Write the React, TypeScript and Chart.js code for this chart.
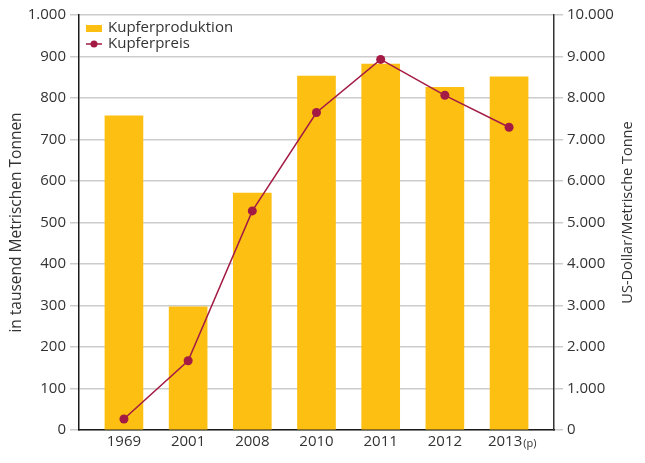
import React, { useEffect, useRef } from "react";
import { Chart, registerables } from "chart.js";

Chart.register(...registerables);

const categories = ["1969", "2001", "2008", "2010", "2011", "2012", "2013"];
const categorySuffix = ["", "", "", "", "", "", "(p)"];
const production = [757, 297, 571, 853, 882, 826, 851];
const price = [265, 1670, 5280, 7650, 8930, 8065, 7295];
const leftTitle = "in tausend Metrischen Tonnen";
const rightTitle = "US-Dollar/Metrische Tonne";
const seriesNames = ["Kupferproduktion", "Kupferpreis"];

const BAR = "#FCBF12";
const LINE = "#A31B44";
const TEXT = "#333333";
const GRID = "#cccccc";
const FONT = "'Open Sans', 'Noto Sans', sans-serif";

const fmt = (v: number) => String(v).replace(/\B(?=(\d{3})+(?!\d))/g, ".");

const customPlugin = {
  id: "custom",
  afterDraw(chart: any) {
    const ctx = chart.ctx;
    const x = chart.scales.x;
    const area = chart.chartArea;
    ctx.save();
    ctx.fillStyle = TEXT;
    ctx.textBaseline = "middle";
    categories.forEach((c, i) => {
      const px = x.getPixelForValue(i);
      const py = area.bottom + 12;
      const suf = categorySuffix[i];
      ctx.font = `15px ${FONT}`;
      const w1 = ctx.measureText(c).width;
      const start = suf ? px - w1 / 2 - 4 : px - w1 / 2;
      ctx.textAlign = "left";
      ctx.fillText(c, start, py);
      if (suf) {
        ctx.font = `11px ${FONT}`;
        ctx.fillText(suf, start + w1 + 1, py + 2);
      }
    });
    // axis titles (both read bottom-to-top)
    const midY = (area.top + area.bottom) / 2;
    ctx.textAlign = "center";
    ctx.textBaseline = "middle";
    ctx.save();
    ctx.font = `15.5px ${FONT}`;
    ctx.translate(17, midY);
    ctx.rotate(-Math.PI / 2);
    ctx.fillText(leftTitle, 0, 0);
    ctx.restore();
    ctx.save();
    ctx.font = `14.5px ${FONT}`;
    ctx.translate(628, midY - 10);
    ctx.rotate(-Math.PI / 2);
    ctx.fillText(rightTitle, 0, 0);
    ctx.restore();
    // legend
    const lx = area.left + 7;
    const ly1 = area.top + 13;
    const ly2 = area.top + 29;
    ctx.fillStyle = BAR;
    ctx.fillRect(lx, ly1 - 3, 16, 7);
    ctx.strokeStyle = LINE;
    ctx.lineWidth = 1.5;
    ctx.beginPath();
    ctx.moveTo(lx, ly2);
    ctx.lineTo(lx + 16, ly2);
    ctx.stroke();
    ctx.fillStyle = LINE;
    ctx.beginPath();
    ctx.arc(lx + 8, ly2, 3.5, 0, Math.PI * 2);
    ctx.fill();
    ctx.fillStyle = TEXT;
    ctx.font = `15px ${FONT}`;
    ctx.textAlign = "left";
    ctx.fillText(seriesNames[0], lx + 22, ly1);
    ctx.fillText(seriesNames[1], lx + 22, ly2);
    ctx.restore();
  },
};

export default function App() {
  const ref = useRef<HTMLCanvasElement>(null);
  useEffect(() => {
    document.body.style.margin = "0";
    const chart = new Chart(ref.current!, {
      type: "bar",
      data: {
        datasets: [
          {
            type: "line",
            label: seriesNames[1],
            data: price.map((v, i) => ({ x: i, y: v })),
            yAxisID: "y1",
            borderColor: LINE,
            backgroundColor: LINE,
            borderWidth: 1.5,
            pointRadius: 4.5,
            pointBackgroundColor: LINE,
            pointBorderWidth: 0,
            order: 0,
          } as any,
          {
            type: "bar",
            label: seriesNames[0],
            data: production.map((v, i) => ({ x: i, y: v })),
            yAxisID: "y",
            backgroundColor: BAR,
            barThickness: 38,
            order: 1,
          },
        ],
      },
      options: {
        animation: false,
        responsive: false,
        maintainAspectRatio: false,
        layout: { padding: { top: 15, bottom: 0, left: 0, right: 0 } },
        plugins: { legend: { display: false }, tooltip: { enabled: false } },
        scales: {
          x: {
            type: "linear",
            offset: false,
            min: -0.7,
            max: 6.7,
            afterBuildTicks: (s: any) => {
              s.ticks = categories.map((_, i) => ({ value: i }));
            },
            afterFit: (s: any) => {
              s.height = 33;
            },
            ticks: { display: false },
            grid: { display: false },
            border: { display: true, color: "#1a1a1a", width: 1.5 },
          },
          y: {
            position: "left",
            min: 0,
            max: 1000,
            afterFit: (s: any) => {
              s.width = 79;
            },
            ticks: {
              stepSize: 100,
              color: TEXT,
              font: { family: FONT, size: 15 },
              padding: 4,
              callback: (v: any) => fmt(v),
            },
            grid: { color: GRID, lineWidth: 1.5, tickLength: 9 },
            border: { display: true, color: "#1a1a1a", width: 1.5 },
          },
          y1: {
            position: "right",
            min: 0,
            max: 10000,
            afterFit: (s: any) => {
              s.width = 91;
            },
            ticks: {
              stepSize: 1000,
              color: TEXT,
              font: { family: FONT, size: 15 },
              padding: 4,
              callback: (v: any) => fmt(v),
            },
            grid: { drawOnChartArea: false, color: GRID, lineWidth: 1.5, tickLength: 9 },
            border: { display: true, color: "#333333", width: 1.5 },
          },
        },
      } as any,
      plugins: [customPlugin],
    });
    return () => chart.destroy();
  }, []);
  return (
    <div style={{ width: 645, height: 463 }}>
      <canvas ref={ref} width={645} height={463} style={{ display: "block" }} />
    </div>
  );
}
